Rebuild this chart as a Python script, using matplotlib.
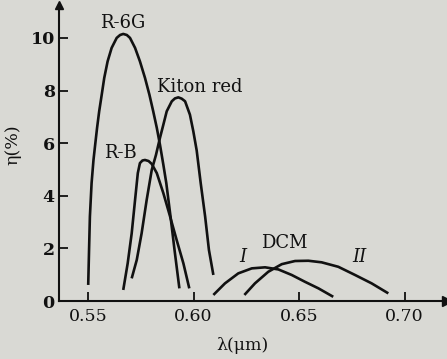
import matplotlib
matplotlib.use("Agg")
import matplotlib.pyplot as plt

# ---- data ----
r6g_x = [0.5501, 0.5505, 0.5509, 0.5517, 0.5526, 0.5534, 0.5543, 0.5553, 0.5565, 0.5577,
         0.5593, 0.5612, 0.5636, 0.5652, 0.5667, 0.5684, 0.5699, 0.5723, 0.5746, 0.5770,
         0.5791, 0.5809, 0.5826, 0.5841, 0.5857, 0.5871, 0.5891, 0.5910, 0.5933]
r6g_y = [0.61, 1.94, 3.21, 4.48, 5.36, 5.94, 6.58, 7.21, 7.84, 8.48,
         9.11, 9.62, 10.00, 10.11, 10.15, 10.11, 10.00, 9.62, 9.11, 8.48,
         7.84, 7.21, 6.58, 5.94, 5.18, 4.48, 3.21, 1.94, 0.48]

rb_x = [0.5667, 0.5688, 0.5707, 0.5723, 0.5736, 0.5746, 0.5758, 0.5770, 0.5787, 0.5802,
        0.5826, 0.5857, 0.5889, 0.5920, 0.5952, 0.5980]
rb_y = [0.42, 1.43, 2.57, 3.84, 4.86, 5.24, 5.34, 5.36, 5.32, 5.21,
        4.86, 4.10, 3.21, 2.32, 1.43, 0.48]

kiton_x = [0.5707, 0.5731, 0.5754, 0.5778, 0.5802, 0.5822, 0.5841, 0.5857, 0.5873, 0.5897,
           0.5912, 0.5928, 0.5944, 0.5960, 0.5983, 0.5999, 0.6015, 0.6034, 0.6055, 0.6073,
           0.6094]
kiton_y = [0.86, 1.56, 2.57, 3.84, 4.98, 5.55, 6.20, 6.70, 7.21, 7.59,
           7.70, 7.74, 7.69, 7.59, 7.08, 6.45, 5.72, 4.48, 3.21, 1.94,
           0.99]

dcm1_x = [0.6094, 0.6149, 0.6212, 0.6276, 0.6339, 0.6402, 0.6465, 0.6528, 0.6592, 0.6662]
dcm1_y = [0.23, 0.67, 1.05, 1.24, 1.28, 1.20, 0.99, 0.73, 0.48, 0.16]

dcm2_x = [0.6241, 0.6291, 0.6354, 0.6418, 0.6481, 0.6544, 0.6607, 0.6686, 0.6765, 0.6844, 0.6923]
dcm2_y = [0.23, 0.67, 1.11, 1.40, 1.52, 1.53, 1.47, 1.30, 0.99, 0.67, 0.29]

x_ticks = [0.55, 0.60, 0.65, 0.70]
x_tick_labels = ["0.55", "0.60", "0.65", "0.70"]
y_ticks = [0, 2, 4, 6, 8, 10]
y_tick_labels = ["0", "2", "4", "6", "8", "10"]

BG = "#d9d9d4"
INK = "#111111"
FONT = "DejaVu Serif"

fig = plt.figure(figsize=(4.47, 3.59), dpi=100, facecolor=BG)
ax = fig.add_axes([59 / 447, 58 / 359, 388 / 447, 296 / 359])
ax.set_facecolor(BG)

lw = 1.9
for xs, ys in [(r6g_x, r6g_y), (rb_x, rb_y), (kiton_x, kiton_y), (dcm1_x, dcm1_y), (dcm2_x, dcm2_y)]:
    ax.plot(xs, ys, color=INK, lw=lw, solid_capstyle="butt", solid_joinstyle="round")

ax.set_xlim(0.53626, 0.7201)
ax.set_ylim(0, 11.25)

for s in ["top", "right"]:
    ax.spines[s].set_visible(False)
for s in ["left", "bottom"]:
    ax.spines[s].set_linewidth(1.5)
    ax.spines[s].set_color(INK)

ax.set_xticks(x_ticks)
ax.set_xticklabels(x_tick_labels, fontfamily=FONT, fontsize=12.5)
ax.set_yticks(y_ticks)
ax.set_yticklabels(y_tick_labels, fontfamily=FONT, fontsize=12.5, fontweight="bold")
ax.tick_params(axis="both", direction="in", length=6.5, width=1.3, colors=INK, pad=3)
ax.tick_params(axis="x", pad=5)

# arrow heads at axis ends
ax.plot([0], [1], marker="^", markersize=6, color=INK, transform=ax.transAxes, clip_on=False)
ax.plot([1], [0], marker=">", markersize=7, color=INK, transform=ax.transAxes, clip_on=False)

tk = dict(fontfamily=FONT, fontsize=13, color=INK, ha="center", va="center")
ax.text(0.5666, 10.57, "R-6G", **tk)
ax.text(0.6031, 8.14, "Kiton red", **tk)
ax.text(0.5652, 5.63, "R-B", **tk)
ax.text(0.6429, 2.2, "DCM", **tk)
ax.text(0.6235, 1.67, "I", fontstyle="italic", **tk)
ax.text(0.6784, 1.67, "II", fontstyle="italic", **tk)

fig.text(13 / 447, 1 - 145 / 359, "η(%)", rotation=90, fontfamily=FONT, fontsize=12.5,
         color=INK, ha="center", va="center")
fig.text(242 / 447, 1 - 346 / 359, "λ(μm)", fontfamily=FONT, fontsize=12.5,
         color=INK, ha="center", va="center")

fig.savefig("out.png", dpi=100, facecolor=BG)
